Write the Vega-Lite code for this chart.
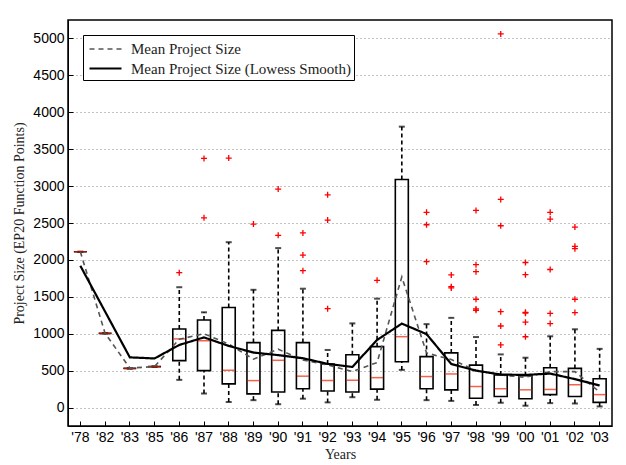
{
  "$schema": "https://vega.github.io/schema/vega-lite/v6.json",
  "width": 544,
  "height": 406,
  "autosize": {"type": "none"},
  "padding": {"left": 68, "top": 20, "right": 14, "bottom": 39},
  "background": "white",
  "config": {
    "view": {"stroke": "black", "strokeWidth": 1.5},
    "axis": {
      "labelFont": "Liberation Sans", "labelFontSize": 14, "labelColor": "black",
      "titleFont": "Liberation Serif", "titleFontSize": 14, "titleFontWeight": "normal", "titleColor": "#222",
      "domainColor": "black", "tickColor": "black", "tickSize": -5, "labelPadding": 9
    }
  },
  "datasets": {
    "summary": [
      {"yr": "'78", "lo": 2110, "q1": 2110, "med": 2110, "q3": 2110, "hi": 2110, "mean": 2110, "lowess": 1920},
      {"yr": "'82", "lo": 1005, "q1": 1005, "med": 1005, "q3": 1005, "hi": 1005, "mean": 1005, "lowess": 1300},
      {"yr": "'83", "lo": 530, "q1": 530, "med": 530, "q3": 530, "hi": 530, "mean": 535, "lowess": 680},
      {"yr": "'85", "lo": 555, "q1": 555, "med": 555, "q3": 555, "hi": 555, "mean": 555, "lowess": 665},
      {"yr": "'86", "lo": 375, "q1": 635, "med": 930, "q3": 1065, "hi": 1630, "mean": 925, "lowess": 848},
      {"yr": "'87", "lo": 190, "q1": 500, "med": 905, "q3": 1185, "hi": 1290, "mean": 1000, "lowess": 950},
      {"yr": "'88", "lo": 75, "q1": 320, "med": 505, "q3": 1355, "hi": 2240, "mean": 860, "lowess": 835},
      {"yr": "'89", "lo": 100, "q1": 185, "med": 365, "q3": 880, "hi": 1595, "mean": 655, "lowess": 745},
      {"yr": "'90", "lo": 45, "q1": 210, "med": 640, "q3": 1045, "hi": 2160, "mean": 790, "lowess": 710},
      {"yr": "'91", "lo": 120, "q1": 255, "med": 425, "q3": 880, "hi": 1610, "mean": 645, "lowess": 668},
      {"yr": "'92", "lo": 70, "q1": 225, "med": 365, "q3": 590, "hi": 780, "mean": 578, "lowess": 592},
      {"yr": "'93", "lo": 140, "q1": 210, "med": 370, "q3": 715, "hi": 1140, "mean": 487, "lowess": 550},
      {"yr": "'94", "lo": 105, "q1": 250, "med": 405, "q3": 825, "hi": 1475, "mean": 610, "lowess": 916},
      {"yr": "'95", "lo": 510, "q1": 620, "med": 960, "q3": 3090, "hi": 3805, "mean": 1770, "lowess": 1137},
      {"yr": "'96", "lo": 100, "q1": 255, "med": 420, "q3": 690, "hi": 1130, "mean": 740, "lowess": 995},
      {"yr": "'97", "lo": 90, "q1": 240, "med": 455, "q3": 740, "hi": 1215, "mean": 650, "lowess": 590},
      {"yr": "'98", "lo": 35, "q1": 125, "med": 285, "q3": 575, "hi": 955, "mean": 505, "lowess": 500},
      {"yr": "'99", "lo": 65, "q1": 150, "med": 255, "q3": 440, "hi": 720, "mean": 440, "lowess": 447},
      {"yr": "'00", "lo": 25, "q1": 120, "med": 240, "q3": 430, "hi": 675, "mean": 410, "lowess": 442},
      {"yr": "'01", "lo": 60, "q1": 175, "med": 245, "q3": 540, "hi": 965, "mean": 487, "lowess": 460},
      {"yr": "'02", "lo": 55, "q1": 150, "med": 310, "q3": 530, "hi": 1060, "mean": 487, "lowess": 385},
      {"yr": "'03", "lo": 15, "q1": 70, "med": 175, "q3": 390, "hi": 795, "mean": 210, "lowess": 298}
    ],
    "outliers": [
      {"yr": "'86", "v": 1827},
      {"yr": "'87", "v": 3375}, {"yr": "'87", "v": 2570},
      {"yr": "'88", "v": 3380},
      {"yr": "'89", "v": 2486},
      {"yr": "'90", "v": 2960}, {"yr": "'90", "v": 2333},
      {"yr": "'91", "v": 2366}, {"yr": "'91", "v": 2066}, {"yr": "'91", "v": 1854},
      {"yr": "'92", "v": 2882}, {"yr": "'92", "v": 2540}, {"yr": "'92", "v": 1340},
      {"yr": "'94", "v": 1724},
      {"yr": "'96", "v": 2644}, {"yr": "'96", "v": 2476}, {"yr": "'96", "v": 1976},
      {"yr": "'97", "v": 1796}, {"yr": "'97", "v": 1637}, {"yr": "'97", "v": 1620},
      {"yr": "'98", "v": 2671}, {"yr": "'98", "v": 1935}, {"yr": "'98", "v": 1840}, {"yr": "'98", "v": 1467}, {"yr": "'98", "v": 1336}, {"yr": "'98", "v": 1318},
      {"yr": "'99", "v": 5061}, {"yr": "'99", "v": 2820}, {"yr": "'99", "v": 2463}, {"yr": "'99", "v": 1299}, {"yr": "'99", "v": 1105}, {"yr": "'99", "v": 848},
      {"yr": "'00", "v": 1965}, {"yr": "'00", "v": 1800}, {"yr": "'00", "v": 1290}, {"yr": "'00", "v": 1278}, {"yr": "'00", "v": 1156}, {"yr": "'00", "v": 959},
      {"yr": "'01", "v": 2644}, {"yr": "'01", "v": 2553}, {"yr": "'01", "v": 1870}, {"yr": "'01", "v": 1275}, {"yr": "'01", "v": 1138},
      {"yr": "'02", "v": 2445}, {"yr": "'02", "v": 2184}, {"yr": "'02", "v": 2152}, {"yr": "'02", "v": 1467}, {"yr": "'02", "v": 1286}
    ]
  },
  "encoding": {
    "x": {
      "field": "yr", "type": "ordinal", "sort": null,
      "scale": {"type": "band", "paddingInner": 0, "paddingOuter": 0},
      "axis": {"title": "Years", "labelAngle": 0, "grid": false, "titlePadding": 3}
    }
  },
  "layer": [
    {
      "data": {"name": "summary"},
      "mark": {"type": "rule", "stroke": "black", "strokeWidth": 1.6, "strokeDash": [4, 3]},
      "encoding": {
        "y": {
          "field": "q3", "type": "quantitative",
          "scale": {"domain": [-250, 5250], "nice": false, "zero": false},
          "axis": {
            "title": "Project Size (EP20 Function Points)",
            "values": [0, 500, 1000, 1500, 2000, 2500, 3000, 3500, 4000, 4500, 5000],
            "format": "d",
            "grid": true, "gridDash": [1, 3], "gridColor": "#888", "gridWidth": 1,
            "titlePadding": 6
          }
        },
        "y2": {"field": "hi"}
      }
    },
    {
      "data": {"name": "summary"},
      "mark": {"type": "rule", "stroke": "black", "strokeWidth": 1.6, "strokeDash": [4, 3]},
      "encoding": {
        "y": {"field": "lo", "type": "quantitative"},
        "y2": {"field": "q1"}
      }
    },
    {
      "data": {"name": "summary"},
      "mark": {"type": "tick", "color": "black", "size": 6, "thickness": 2},
      "encoding": {"y": {"field": "hi", "type": "quantitative"}}
    },
    {
      "data": {"name": "summary"},
      "mark": {"type": "tick", "color": "black", "size": 6, "thickness": 2},
      "encoding": {"y": {"field": "lo", "type": "quantitative"}}
    },
    {
      "data": {"name": "summary"},
      "mark": {"type": "bar", "size": 13, "fill": "white", "fillOpacity": 0, "stroke": "black", "strokeWidth": 1.6},
      "encoding": {
        "y": {"field": "q1", "type": "quantitative"},
        "y2": {"field": "q3"}
      }
    },
    {
      "data": {"name": "summary"},
      "mark": {"type": "tick", "color": "#f02000", "size": 12, "thickness": 1.5},
      "encoding": {"y": {"field": "med", "type": "quantitative"}}
    },
    {
      "data": {"name": "outliers"},
      "mark": {"type": "point", "shape": "M-1,0H1M0,-1V1", "filled": false, "stroke": "#ff0000", "strokeWidth": 1.3, "size": 36, "opacity": 1},
      "encoding": {"y": {"field": "v", "type": "quantitative"}}
    },
    {
      "data": {"name": "summary"},
      "transform": [{"fold": ["mean", "lowess"], "as": ["series", "value"]}],
      "mark": {"type": "line"},
      "encoding": {
        "y": {"field": "value", "type": "quantitative"},
        "color": {
          "field": "series", "type": "nominal",
          "scale": {"domain": ["mean", "lowess"], "range": ["#555555", "#000000"]},
          "legend": {
            "title": null, "orient": "top-left", "offset": 15,
            "labelExpr": "datum.value == 'mean' ? 'Mean Project Size' : 'Mean Project Size (Lowess Smooth)'",
            "labelFont": "Liberation Serif", "labelFontSize": 15, "labelColor": "#222", "labelLimit": 0,
            "symbolType": "M-1.6,0H1.6", "symbolSize": 400, "symbolOffset": 8,
            "strokeColor": "black", "fillColor": "white", "padding": 3, "rowPadding": 0,
            "labelOffset": 14
          }
        },
        "strokeDash": {
          "field": "series", "type": "nominal",
          "scale": {"domain": ["mean", "lowess"], "range": [[5, 4], [1, 0]]}
        },
        "strokeWidth": {
          "field": "series", "type": "nominal",
          "scale": {"domain": ["mean", "lowess"], "range": [1.6, 2.2]}
        }
      }
    }
  ]
}
